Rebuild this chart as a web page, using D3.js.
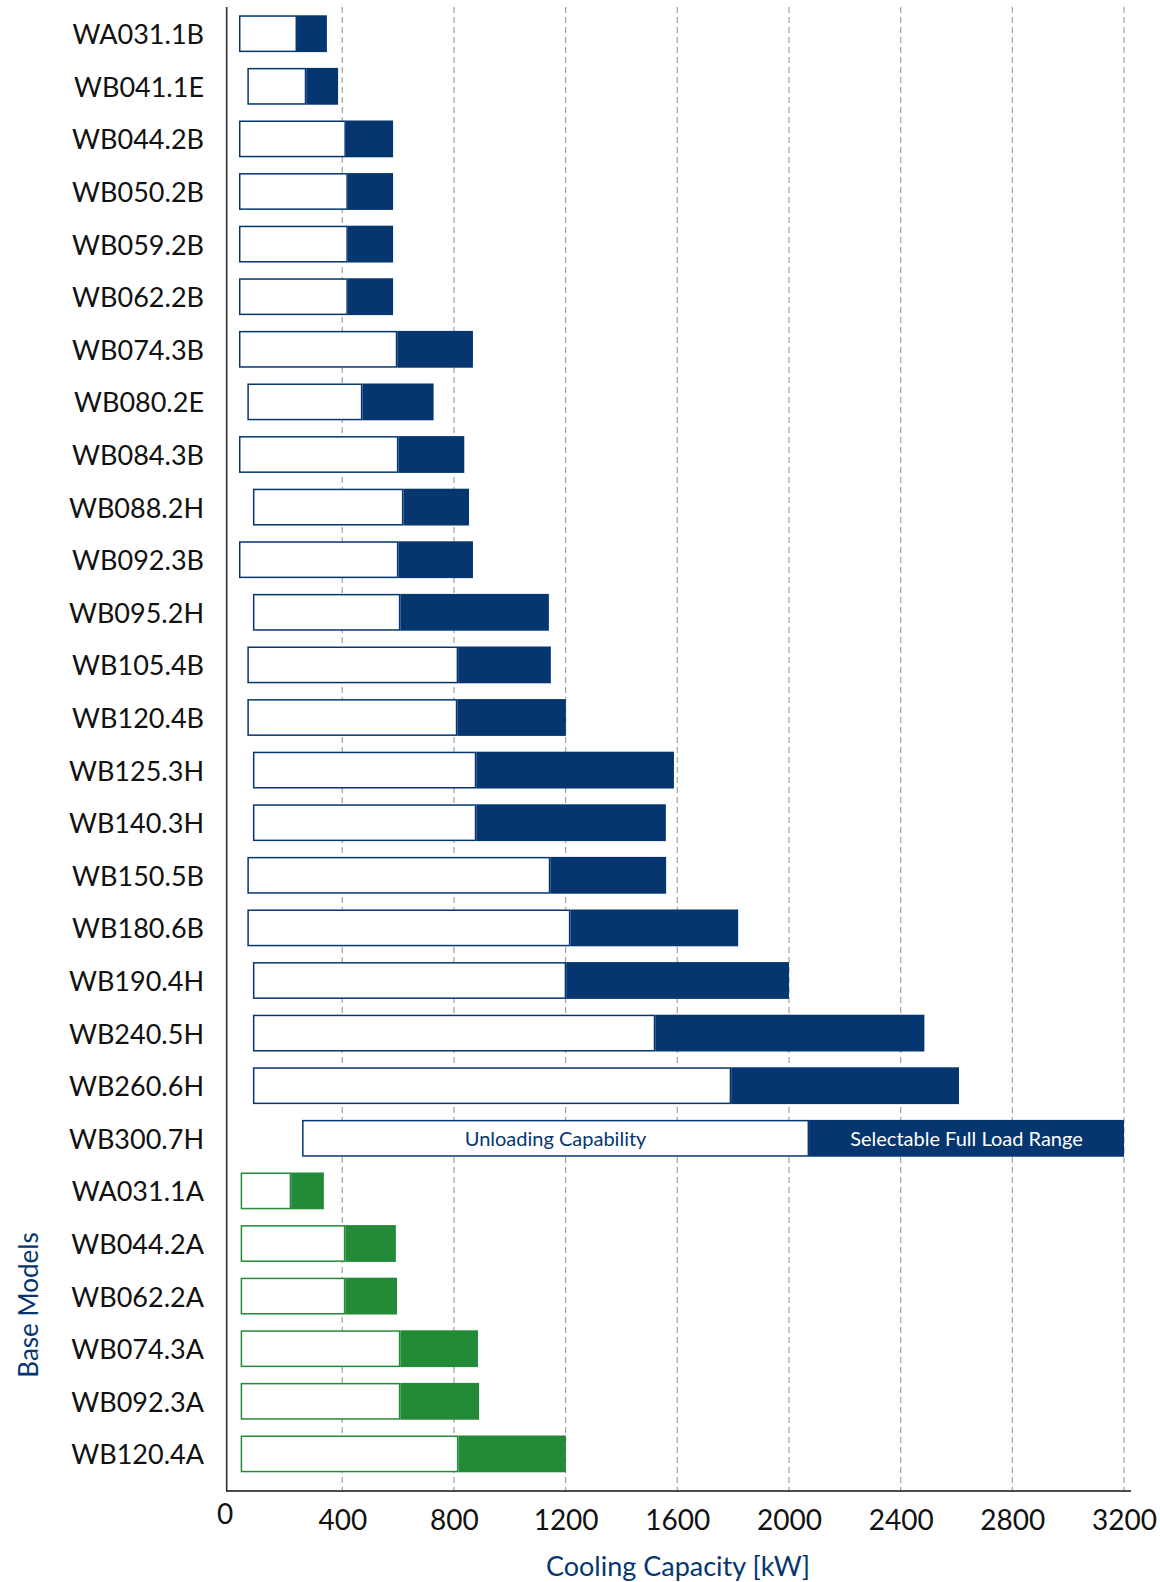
<!DOCTYPE html>
<html>
<head>
<meta charset="utf-8">
<script src="https://cdn.jsdelivr.net/npm/d3@7"></script>
<style>
  html, body { margin: 0; padding: 0; background: #fff; }
  svg { display: block; font-family: Lato, "DejaVu Sans", sans-serif; }
</style>
</head>
<body>
<div id="chart"></div>
<script>
// model names, top to bottom
const models = [
  "WA031.1B", "WB041.1E", "WB044.2B", "WB050.2B", "WB059.2B", "WB062.2B",
  "WB074.3B", "WB080.2E", "WB084.3B", "WB088.2H", "WB092.3B", "WB095.2H",
  "WB105.4B", "WB120.4B", "WB125.3H", "WB140.3H", "WB150.5B", "WB180.6B",
  "WB190.4H", "WB240.5H", "WB260.6H", "WB300.7H",
  "WA031.1A", "WB044.2A", "WB062.2A", "WB074.3A", "WB092.3A", "WB120.4A"
];
// true for the green "base" models
const isBase = [
  false, false, false, false, false, false,
  false, false, false, false, false, false,
  false, false, false, false, false, false,
  false, false, false, false,
  true, true, true, true, true, true
];
// kW, lowest unloading point
const unloadMin = [
  30, 60, 30, 30, 30, 30,
  30, 60, 30, 80, 30, 80,
  60, 60, 80, 80, 60, 60,
  80, 80, 80, 256,
  36, 36, 36, 36, 36, 36
];
// kW, start of the selectable full load range
const fullMin = [
  238, 271, 413, 420, 420, 420,
  597, 472, 601, 619, 601, 608,
  815, 812, 880, 880, 1145, 1217,
  1202, 1521, 1793, 2072,
  217, 411, 411, 608, 608, 816
];
// kW, end of the selectable full load range
const fullMax = [
  345, 385, 582, 582, 582, 582,
  868, 727, 837, 854, 868, 1140,
  1147, 1201, 1588, 1559, 1560, 1818,
  2000, 2485, 2609, 3200,
  334, 592, 596, 886, 890, 1201
];
const xTicks = [0, 400, 800, 1200, 1600, 2000, 2400, 2800, 3200];
const legendRow = "WB300.7H";

const width = 1160, height = 1582;
const blue = "#053670", green = "#238a38";

const rows = models.map((m, i) => ({
  model: m, base: isBase[i], lo: unloadMin[i], mid: fullMin[i], hi: fullMax[i]
}));

const x = d3.scaleLinear().domain([0, 3200]).range([230.6, 1124]);
const y = d3.scaleBand().domain(models).range([7.4, 1480.2])
  .paddingInner(0.3).paddingOuter(0.15);

const svg = d3.select("#chart").append("svg")
  .attr("width", width).attr("height", height);

svg.append("rect").attr("width", width).attr("height", height).attr("fill", "#fff");

const axisY = 1491;

// dashed grid lines
svg.append("g")
  .selectAll("line")
  .data(xTicks.filter(d => d > 0))
  .join("line")
  .attr("x1", d => x(d)).attr("x2", d => x(d))
  .attr("y1", 7).attr("y2", axisY)
  .attr("stroke", "#a8a8a8")
  .attr("stroke-width", 1.3)
  .attr("stroke-dasharray", "6,4");

// bars
const bars = svg.append("g").selectAll("g").data(rows).join("g");

bars.append("rect")
  .attr("x", d => x(d.lo) + 0.75)
  .attr("y", d => y(d.model) + 0.75)
  .attr("width", d => x(d.mid) - x(d.lo) - 1.5)
  .attr("height", y.bandwidth() - 1.5)
  .attr("fill", "#fff")
  .attr("stroke", d => d.base ? green : blue)
  .attr("stroke-width", 1.5);

bars.append("rect")
  .attr("x", d => x(d.mid))
  .attr("y", d => y(d.model))
  .attr("width", d => x(d.hi) - x(d.mid))
  .attr("height", y.bandwidth())
  .attr("fill", d => d.base ? green : blue);

// legend text inside the WB300.7H bar
const lr = rows.find(d => d.model === legendRow);
const ly = y(lr.model) + y.bandwidth() / 2;
svg.append("text")
  .attr("x", (x(lr.lo) + x(lr.mid)) / 2).attr("y", ly)
  .attr("text-anchor", "middle").attr("dominant-baseline", "central")
  .attr("font-size", 20).attr("fill", blue)
  .text("Unloading Capability");
svg.append("text")
  .attr("x", (x(lr.mid) + x(lr.hi)) / 2).attr("y", ly)
  .attr("text-anchor", "middle").attr("dominant-baseline", "central")
  .attr("font-size", 20).attr("fill", "#fff")
  .text("Selectable Full Load Range");

// row labels
svg.append("g")
  .selectAll("text")
  .data(rows)
  .join("text")
  .attr("x", 204)
  .attr("y", d => y(d.model) + y.bandwidth() / 2)
  .attr("text-anchor", "end")
  .attr("dominant-baseline", "central")
  .attr("font-size", 27)
  .attr("fill", "#111")
  .text(d => d.model);

// axis lines
svg.append("line")
  .attr("x1", 226.7).attr("x2", 226.7).attr("y1", 7).attr("y2", axisY)
  .attr("stroke", "#333").attr("stroke-width", 1.6);

const xAxis = svg.append("g")
  .attr("transform", `translate(0,${axisY})`)
  .call(d3.axisBottom(x).tickValues(xTicks).tickSize(0).tickPadding(19).tickFormat(d3.format("d")));
xAxis.select(".domain").remove();
xAxis.append("line")
  .attr("x1", 226).attr("x2", 1131).attr("y1", 0).attr("y2", 0)
  .attr("stroke", "#111").attr("stroke-width", 1.6);
xAxis.selectAll(".tick text")
  .attr("font-family", "Lato, 'DejaVu Sans', sans-serif")
  .attr("font-size", 28)
  .attr("fill", "#111")
  .attr("dx", d => d === 0 ? -6 : 0)
  .attr("dy", d => d === 0 ? "0.5em" : "0.71em");

// axis titles
svg.append("text")
  .attr("x", 678).attr("y", 1576)
  .attr("text-anchor", "middle")
  .attr("font-size", 27).attr("fill", blue)
  .text("Cooling Capacity [kW]");

svg.append("text")
  .attr("transform", "translate(38,1305) rotate(-90)")
  .attr("text-anchor", "middle")
  .attr("font-size", 26).attr("fill", blue)
  .text("Base Models");
</script>
</body>
</html>
